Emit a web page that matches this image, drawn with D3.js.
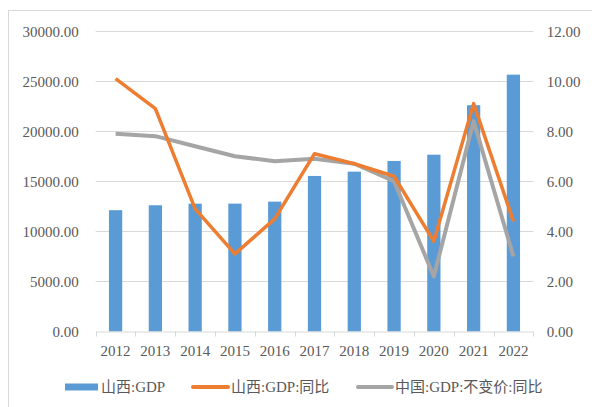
<!DOCTYPE html>
<html><head><meta charset="utf-8">
<script src="https://cdn.jsdelivr.net/npm/d3@7"></script>
<style>body{margin:0;background:#fff;}svg{display:block;}</style>
</head><body>
<svg id="c" width="592" height="407"></svg>
<script>
const years = ["2012","2013","2014","2015","2016","2017","2018","2019","2020","2021","2022"];
const gdp = [12112, 12602, 12761, 12766, 12966, 15528, 15958, 17027, 17652, 22590, 25643];
const gdpYoy = [10.1, 8.9, 4.9, 3.1, 4.5, 7.1, 6.7, 6.2, 3.6, 9.1, 4.4];
const chinaYoy = [7.9, 7.8, 7.4, 7.0, 6.8, 6.9, 6.7, 6.0, 2.2, 8.4, 3.0];
const leftTicks = [0, 5000, 10000, 15000, 20000, 25000, 30000];
const rightTicks = [0, 2, 4, 6, 8, 10, 12];
const legendNames = ["山西:GDP", "山西:GDP:同比", "中国:GDP:不变价:同比"];

const svg = d3.select("#c");
const font = "'Liberation Serif','Times New Roman','Noto Sans CJK SC',serif";
const txt = "#595959";
const L = 95.7, R = 533.3, T = 31, B = 331.5;

// outer border
svg.append("rect").attr("x", 8.5).attr("y", 10.5).attr("width", 600).attr("height", 420)
  .attr("fill", "none").attr("stroke", "#d9d9d9").attr("stroke-width", 1);

const x = d3.scaleBand().domain(years).range([L, R]).paddingInner(0).paddingOuter(0);
const yL = d3.scaleLinear().domain([0, 30000]).range([B, T]);
const yR = d3.scaleLinear().domain([0, 12]).range([B, T]);

// gridlines
svg.append("g").selectAll("line").data(leftTicks.slice(1)).join("line")
  .attr("x1", L).attr("x2", R).attr("y1", d => Math.round(yL(d)) + 0.5).attr("y2", d => Math.round(yL(d)) + 0.5)
  .attr("stroke", "#d9d9d9").attr("stroke-width", 1);

// left axis
const axL = svg.append("g").attr("transform", `translate(${L - 17},0)`)
  .call(d3.axisLeft(yL).tickValues(leftTicks).tickFormat(d3.format(".2f")).tickSize(0).tickPadding(0));
axL.select(".domain").remove();
axL.selectAll("text").attr("font-family", font).attr("font-size", 15).attr("fill", txt).attr("dy", "0.35em");

// right axis
const axR = svg.append("g").attr("transform", `translate(${R + 13.5},0)`)
  .call(d3.axisRight(yR).tickValues(rightTicks).tickFormat(d3.format(".2f")).tickSize(0).tickPadding(0));
axR.select(".domain").remove();
axR.selectAll("text").attr("font-family", font).attr("font-size", 15).attr("fill", txt).attr("dy", "0.35em");

// bars
const bw = x.bandwidth() / 3;
svg.append("g").selectAll("rect").data(years).join("rect")
  .attr("x", d => x(d) + x.bandwidth() / 2 - bw / 2)
  .attr("width", bw)
  .attr("y", (d, i) => yL(gdp[i]))
  .attr("height", (d, i) => B - yL(gdp[i]))
  .attr("fill", "#5b9bd5");

// bottom axis
const axB = svg.append("g").attr("transform", `translate(0,${B})`)
  .call(d3.axisBottom(x).tickSize(0).tickPadding(14));
axB.select(".domain").attr("stroke", "#d9d9d9").attr("stroke-width", 1);
axB.selectAll("text").attr("font-family", font).attr("font-size", 15).attr("fill", txt);
svg.append("g").selectAll("line").data(years.concat(["end"])).join("line")
  .attr("x1", (d, i) => Math.round(L + i * x.bandwidth()) + 0.5)
  .attr("x2", (d, i) => Math.round(L + i * x.bandwidth()) + 0.5)
  .attr("y1", B).attr("y2", B + 5).attr("stroke", "#d9d9d9").attr("stroke-width", 1);

// lines
const cx = d => x(d) + x.bandwidth() / 2;
const line = vals => d3.line().x((d, i) => cx(years[i])).y((d, i) => yR(vals[i]));
svg.append("path").datum(chinaYoy).attr("d", line(chinaYoy)).attr("fill", "none")
  .attr("stroke", "#a5a5a5").attr("stroke-width", 4).attr("stroke-linejoin", "round");
svg.append("path").datum(gdpYoy).attr("d", line(gdpYoy)).attr("fill", "none")
  .attr("stroke", "#ed7d31").attr("stroke-width", 3.5).attr("stroke-linejoin", "round");

// legend
const lg = svg.append("g");
const ly = 387;
lg.append("rect").attr("x", 65).attr("y", ly - 3.5).attr("width", 33).attr("height", 7).attr("fill", "#5b9bd5");
lg.append("text").attr("x", 101).attr("y", ly).attr("dy", "0.35em").text(legendNames[0]);
lg.append("line").attr("x1", 193).attr("x2", 228).attr("y1", ly).attr("y2", ly)
  .attr("stroke", "#ed7d31").attr("stroke-width", 4).attr("stroke-linecap", "round");
lg.append("text").attr("x", 231).attr("y", ly).attr("dy", "0.35em").text(legendNames[1]);
lg.append("line").attr("x1", 358).attr("x2", 392).attr("y1", ly).attr("y2", ly)
  .attr("stroke", "#a5a5a5").attr("stroke-width", 4).attr("stroke-linecap", "round");
lg.append("text").attr("x", 395).attr("y", ly).attr("dy", "0.35em").text(legendNames[2]);
lg.selectAll("text").attr("font-family", font).attr("font-size", 15).attr("fill", txt);
</script>
</body></html>
